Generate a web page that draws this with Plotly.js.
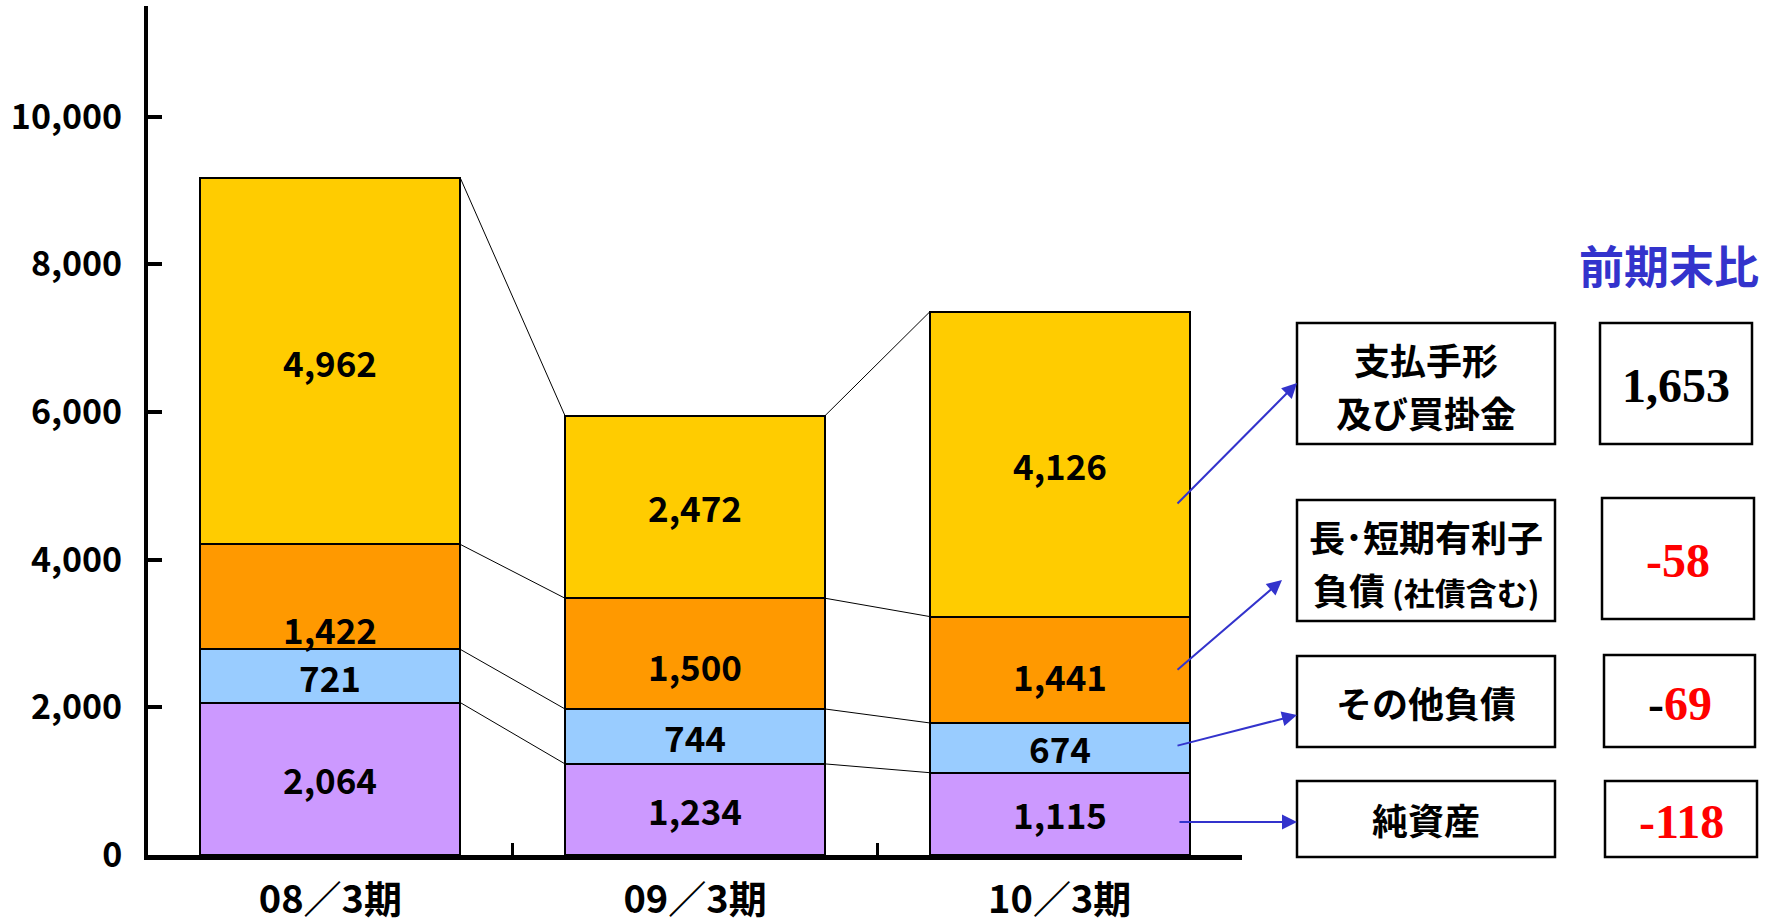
<!DOCTYPE html>
<html>
<head>
<meta charset="utf-8">
<script src="https://cdn.plot.ly/plotly-3.0.1.min.js"></script>
<style>html,body{margin:0;padding:0;background:#fff;}#chart{width:1781px;height:923px;}</style>
</head>
<body>
<div id="chart"></div>
<script>
// ---- data ----
const categories = ['08／3期', '09／3期', '10／3期'];
const netAssets  = [2064, 1234, 1115];   // 純資産
const otherLiab  = [721, 744, 674];      // その他負債
const debt       = [1422, 1500, 1441];   // 長・短期有利子負債
const payables   = [4962, 2472, 4126];   // 支払手形及び買掛金
const yTickVals  = [0, 2000, 4000, 6000, 8000, 10000];
const headerText = '前期末比';
const boxLabelLines = [
  ['支払手形', '及び買掛金'],
  ['長･短期有利子', '負債|(社債含む)'],
  ['その他負債'],
  ['純資産']
];
const changeValues = [1653, -58, -69, -118];

// ---- styles / geometry ----
const W = 1781, H = 923;
const px = v => v / W;
const py = v => 1 - v / H;
const sans = 'Noto Sans CJK JP, Noto Sans, sans-serif';
const serif = 'Liberation Serif, Times New Roman, serif';
const colors = ['#CC99FF', '#99CCFF', '#FF9900', '#FFCC00'];
const barWidth = 0.713;
const series = [netAssets, otherLiab, debt, payables];

const traces = series.map((vals, i) => ({
  type: 'bar',
  x: categories,
  y: vals,
  width: barWidth,
  marker: { color: colors[i], line: { color: '#000', width: 2 } },
  hoverinfo: 'skip',
  showlegend: false
}));

const shapes = [];
const annotations = [];

// cumulative tops & segment labels
const cum = categories.map(() => 0);
const tops = [];
const labelShift = [[0, 0, 0], [0, 0, 0], [-32, -12, -6], [0, 0, 0]];
series.forEach((vals, s) => {
  const t = [];
  vals.forEach((v, i) => {
    const base = cum[i];
    cum[i] += v;
    t.push(cum[i]);
    annotations.push({
      x: i, y: base + v / 2, xref: 'x', yref: 'y',
      text: v.toLocaleString('en-US'), showarrow: false,
      yshift: labelShift[s][i],
      font: { family: sans, size: 35, color: '#000', weight: 'bold' }
    });
  });
  tops.push(t);
});

// connector lines between bars
tops.forEach(t => {
  for (let i = 0; i < categories.length - 1; i++) {
    shapes.push({
      type: 'line', xref: 'x', yref: 'y', layer: 'below',
      x0: i + barWidth / 2, y0: t[i], x1: i + 1 - barWidth / 2, y1: t[i + 1],
      line: { color: '#000', width: 1 }
    });
  }
});

// right-hand boxes
const labelBoxes = [[1297, 323, 1555, 444], [1297, 500, 1555, 621], [1297, 656, 1555, 747], [1297, 781, 1555, 857]];
const valueBoxes = [[1600, 323, 1752, 444], [1602, 498, 1754, 619], [1604, 655, 1755, 747], [1605, 781, 1757, 857]];
[...labelBoxes, ...valueBoxes].forEach(b => {
  shapes.push({
    type: 'rect', xref: 'paper', yref: 'paper',
    x0: px(b[0]), x1: px(b[2]), y0: py(b[3]), y1: py(b[1]),
    line: { color: '#000', width: 2.5 }, fillcolor: '#fff'
  });
});

boxLabelLines.forEach((lines, i) => {
  const b = labelBoxes[i];
  const cx = (b[0] + b[2]) / 2, cy = (b[1] + b[3]) / 2;
  lines.forEach((ln, j) => {
    const off = lines.length === 1 ? 0 : (j === 0 ? -25 : 28);
    const parts = ln.split('|');
    const txt = parts.length > 1 ? parts[0] + '<span style="font-size:31px"> ' + parts[1] + '</span>' : parts[0];
    annotations.push({
      x: px(cx), y: py(cy + off), xref: 'paper', yref: 'paper',
      text: txt, showarrow: false, xanchor: 'center', yanchor: 'middle',
      font: { family: sans, size: 36, color: '#000', weight: 'bold' }
    });
  });
});

const signColors = ['#000', '#FF0000', '#000', '#FF0000'];
changeValues.forEach((v, i) => {
  const b = valueBoxes[i];
  const cx = (b[0] + b[2]) / 2, cy = (b[1] + b[3]) / 2 + 2;
  let txt;
  if (v >= 0) txt = v.toLocaleString('en-US');
  else txt = '<span style="color:' + signColors[i] + '">-</span><span style="color:#FF0000">' + Math.abs(v).toLocaleString('en-US') + '</span>';
  annotations.push({
    x: px(cx), y: py(cy), xref: 'paper', yref: 'paper',
    text: txt, showarrow: false, xanchor: 'center', yanchor: 'middle',
    font: { family: serif, size: 48, color: '#000', weight: 'bold' }
  });
});

annotations.push({
  x: px(1669), y: py(264), xref: 'paper', yref: 'paper',
  text: headerText, showarrow: false, xanchor: 'center', yanchor: 'middle',
  font: { family: sans, size: 45, color: '#3333CC', weight: 'bold' }
});

// arrows from bar 3 to boxes
const arrows = [[1176, 505, 1297, 383], [1176, 671, 1282, 580], [1176, 746, 1297, 715], [1178, 822, 1297, 822]];
arrows.forEach(a => {
  annotations.push({
    x: px(a[2]), y: py(a[3]), xref: 'paper', yref: 'paper',
    ax: a[0] - a[2], ay: a[1] - a[3], axref: 'pixel', ayref: 'pixel',
    text: '', showarrow: true, arrowhead: 2, arrowsize: 1.5, arrowwidth: 2,
    arrowcolor: '#3333CC', standoff: 0, startstandoff: 0
  });
});

const layout = {
  width: W, height: H,
  margin: { l: 0, r: 0, t: 0, b: 0 },
  paper_bgcolor: '#fff', plot_bgcolor: 'rgba(0,0,0,0)',
  barmode: 'stack',
  showlegend: false,
  xaxis: {
    type: 'category', domain: [px(148), px(1242)],
    tickson: 'boundaries', ticks: 'inside', ticklen: 12, tickwidth: 3, tickcolor: '#000',
    showline: true, linecolor: '#000', linewidth: 5, showgrid: false, zeroline: false,
    tickfont: { family: sans, size: 38, color: '#000', weight: 'bold' },
    ticklabelstandoff: 7, fixedrange: true
  },
  yaxis: {
    domain: [1 - 855 / H, 1 - 6 / H], range: [0, 11500],
    tickmode: 'array', tickvals: yTickVals, tickformat: ',d',
    ticks: 'inside', ticklen: 14, tickwidth: 4, tickcolor: '#000',
    showline: true, linecolor: '#000', linewidth: 4, showgrid: false, zeroline: false,
    tickfont: { family: sans, size: 34, color: '#000', weight: 'bold' },
    ticklabelstandoff: 15, fixedrange: true
  },
  shapes: shapes,
  annotations: annotations
};

Plotly.newPlot('chart', traces, layout, { displayModeBar: false, staticPlot: true });
</script>
</body>
</html>
